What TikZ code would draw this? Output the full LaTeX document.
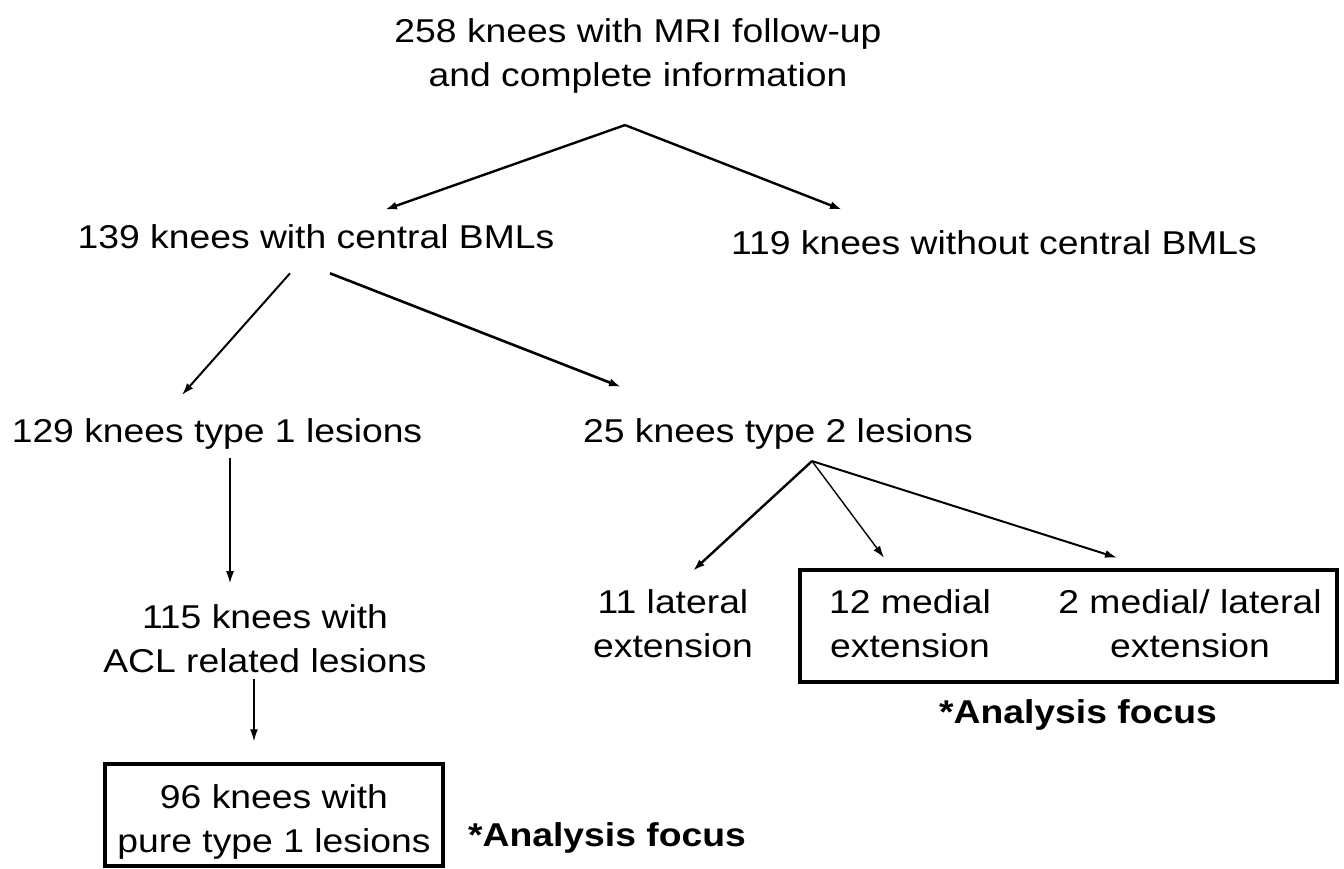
\documentclass[tikz,border=0pt]{standalone}
\usepackage{fontspec}
\setmainfont{Liberation Sans}[FakeStretch=1.13]
\usetikzlibrary{arrows.meta}

\begin{document}
\begin{tikzpicture}[x=1pt,y=-1pt,
    txt/.style={align=center,inner sep=0pt,font=\fontsize{33}{44}\selectfont},
    focus/.style={inner sep=0pt,font=\fontsize{33}{44}\selectfont\bfseries},
    frame/.style={draw,line width=3.5pt,inner sep=0pt},
    arr/.style={-{Latex[length=12pt,width=8pt]},line width=#1},
    arr/.default=2pt]
        \useasboundingbox (0,0) rectangle (1344,869);
        \node[txt] (all) at (638,55.5) {258 knees with MRI follow-up\\and complete information};
        \node[txt] (cen) at (316,237) {139 knees with central BMLs};
        \node[txt] (nocen) at (994,243) {119 knees without central BMLs};
        \node[txt] (type1) at (217,433.5) {129 knees type 1 lesions};
        \node[txt] (type2) at (778,433.5) {25 knees type 2 lesions};
        \node[txt] (acl) at (265,638.5) {115 knees with\\ACL related lesions};
        \node[frame,minimum width=338pt,minimum height=102pt] (purebox) at (274,815) {};
        \node[txt] (pure) at (274,822) {96 knees with\\pure type 1 lesions};
        \node[focus] (focusa) at (607,838) {*Analysis focus};
        \node[txt] (lat) at (673,624) {11 lateral\\extension};
        \node[frame,minimum width=537pt,minimum height=112pt] (medbox) at (1068.5,626) {};
        \node[txt] (med) at (910,624) {12 medial\\extension};
        \node[txt] (both) at (1190,624) {2 medial/ lateral\\extension};
        \node[focus] (focusb) at (1078,715) {*Analysis focus};
        \coordinate (split) at ([xshift=-13pt,yshift=-32pt]all.south);
        \coordinate (fork) at ([xshift=34pt,yshift=-12pt]type2.south);
        \draw[arr=2.4pt] (split) -- ([xshift=69pt,yshift=15pt]cen.north);
        \draw[arr=2.4pt] (split) -- ([xshift=-152pt,yshift=21pt]nocen.north);
        \draw[arr=2pt] ([xshift=-26pt,yshift=-24pt]cen.south) -- ([xshift=-35pt,yshift=23pt]type1.north);
        \draw[arr=2.6pt] ([xshift=14pt,yshift=-24pt]cen.south) -- ([xshift=-157pt,yshift=31pt]type2.north);
        \draw[arr=1.5pt] ([xshift=13pt,yshift=-9pt]type1.south) -- ([xshift=-35pt,yshift=21pt]acl.north);
        \draw[arr=1.4pt] ([xshift=-11pt,yshift=-6pt]acl.south) -- ([xshift=-20pt,yshift=21pt]purebox.north);
        \draw[arr=2.4pt] (fork) -- ([xshift=20pt,yshift=19pt]lat.north);
        \draw[arr=1.4pt] (fork) -- ([xshift=-26pt,yshift=32pt]med.north);
        \draw[arr=2pt] (fork) -- ([xshift=-73pt,yshift=32pt]both.north);
      \end{tikzpicture}
\end{document}
